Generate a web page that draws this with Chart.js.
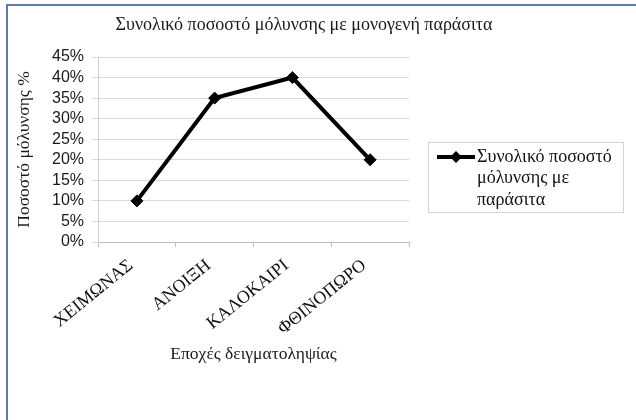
<!DOCTYPE html>
<html>
<head>
<meta charset="utf-8">
<script src="https://cdn.jsdelivr.net/npm/chart.js@4/dist/chart.umd.min.js"></script>
<style>
  html, body { margin: 0; padding: 0; background: #fff; }
  #wrap { position: relative; width: 636px; height: 420px; overflow: hidden; }
  #wrap canvas { position: absolute; left: 0; top: 0; }
  #frame { position: absolute; left: 6px; top: 4px; width: 700px; height: 500px;
           border-left: 2px solid #5b7bb4; border-top: 2px solid #5b7bb4; pointer-events: none; }
</style>
</head>
<body>
<div id="wrap">
  <canvas id="chart" width="636" height="420"></canvas>
  <div id="frame"></div>
</div>
<script>
// Seasonal infection rate with monogenean parasites
const chartTitle = 'Συνολικό ποσοστό μόλυνσης με μονογενή παράσιτα';
const seasons = ['ΧΕΙΜΩΝΑΣ', 'ΑΝΟΙΞΗ', 'ΚΑΛΟΚΑΙΡΙ', 'ΦΘΙΝΟΠΩΡΟ'];
const infectionRate = [10, 35, 40, 20];
const seriesLabelLines = ['Συνολικό ποσοστό', 'μόλυνσης με', 'παράσιτα'];
const yAxisTitle = 'Ποσοστό μόλυνσης %';
const xAxisTitle = 'Εποχές δειγματοληψίας';
const yTickValues = [0, 5, 10, 15, 20, 25, 30, 35, 40, 45];

const SERIF = "'Liberation Serif', 'DejaVu Serif', serif";
const SANS = "'Liberation Sans', Arial, sans-serif";

// Legend drawn as a framed box with a line-and-diamond key
const boxLegend = {
  id: 'boxLegend',
  afterDraw(chart, args, o) {
    const ctx = chart.ctx;
    const ds = chart.data.datasets[0];
    const area = chart.chartArea;
    const x = area.right + o.offsetX, y = area.top + o.offsetY;
    ctx.save();
    ctx.strokeStyle = o.borderColor;
    ctx.lineWidth = 1;
    ctx.strokeRect(x + 0.5, y + 0.5, o.width, o.height);

    const ky = y + o.firstLine;
    ctx.strokeStyle = ds.borderColor;
    ctx.lineWidth = ds.borderWidth;
    ctx.beginPath();
    ctx.moveTo(x + o.keyStart, ky);
    ctx.lineTo(x + o.keyEnd, ky);
    ctx.stroke();
    const cx = x + (o.keyStart + o.keyEnd) / 2, r = ds.pointRadius;
    ctx.fillStyle = ds.pointBackgroundColor;
    ctx.beginPath();
    ctx.moveTo(cx, ky - r); ctx.lineTo(cx + r, ky); ctx.lineTo(cx, ky + r); ctx.lineTo(cx - r, ky);
    ctx.closePath();
    ctx.fill();

    ctx.fillStyle = o.color;
    ctx.font = o.font;
    ctx.textBaseline = 'middle';
    ctx.textAlign = 'left';
    ds.legendLines.forEach((line, i) => {
      ctx.fillText(line, x + o.textStart, ky + i * o.lineHeight);
    });
    ctx.restore();
  }
};

new Chart(document.getElementById('chart'), {
  type: 'line',
  data: {
    labels: seasons,
    datasets: [{
      label: seriesLabelLines.join(' '),
      legendLines: seriesLabelLines,
      data: infectionRate,
      borderColor: '#000',
      borderWidth: 4,
      pointStyle: 'rectRot',
      pointRadius: 6,
      pointBackgroundColor: '#000',
      pointBorderColor: '#000',
      pointBorderWidth: 1,
      tension: 0,
      fill: false
    }]
  },
  options: {
    responsive: false,
    animation: false,
    events: [],
    layout: { padding: { left: 0, right: 28, top: 0, bottom: 55 } },
    plugins: {
      legend: { display: false },
      tooltip: { enabled: false },
      title: {
        display: true,
        text: chartTitle,
        color: '#1a1a1a',
        font: { family: SERIF, size: 18, weight: 'normal' },
        padding: { top: 14, bottom: 21.4 }
      },
      boxLegend: {
        offsetX: 19, offsetY: 85, width: 195, height: 70,
        firstLine: 15, lineHeight: 21.5,
        keyStart: 9, keyEnd: 47, textStart: 49,
        borderColor: '#d4d4d4', color: '#111',
        font: "18px " + SERIF
      }
    },
    scales: {
      x: {
        offset: true,
        grid: { offset: true, drawOnChartArea: false, tickLength: 5, color: '#bfbfbf' },
        border: { color: '#bfbfbf' },
        ticks: {
          autoSkip: false, minRotation: 39, maxRotation: 39, padding: 8, labelOffset: -6,
          color: '#111', font: { family: SERIF, size: 18 }
        },
        title: {
          display: true, text: xAxisTitle, color: '#1a1a1a',
          font: { family: SERIF, size: 17.5 }, padding: 0
        },
        afterFit(scale) { scale.height = 123; }
      },
      y: {
        min: 0, max: 45,
        afterBuildTicks(scale) { scale.ticks = yTickValues.map(v => ({ value: v })); },
        grid: { color: '#d9d9d9', tickLength: 6 },
        border: { color: '#cfcfcf' },
        ticks: {
          autoSkip: false, padding: 8, color: '#1a1a1a',
          font: { family: SANS, size: 16 },
          callback: v => v + '%'
        },
        title: {
          display: true, text: yAxisTitle, color: '#1a1a1a',
          font: { family: SERIF, size: 17.5 }, padding: { top: 14, bottom: 0 }
        },
        afterFit(scale) { scale.width = 98; }
      },
      side: {
        position: 'right',
        display: true,
        grid: { display: false },
        border: { display: false },
        ticks: { display: false },
        afterFit(scale) { scale.width = 636 - 28 - 409; }
      }
    }
  },
  plugins: [boxLegend]
});
</script>
</body>
</html>
